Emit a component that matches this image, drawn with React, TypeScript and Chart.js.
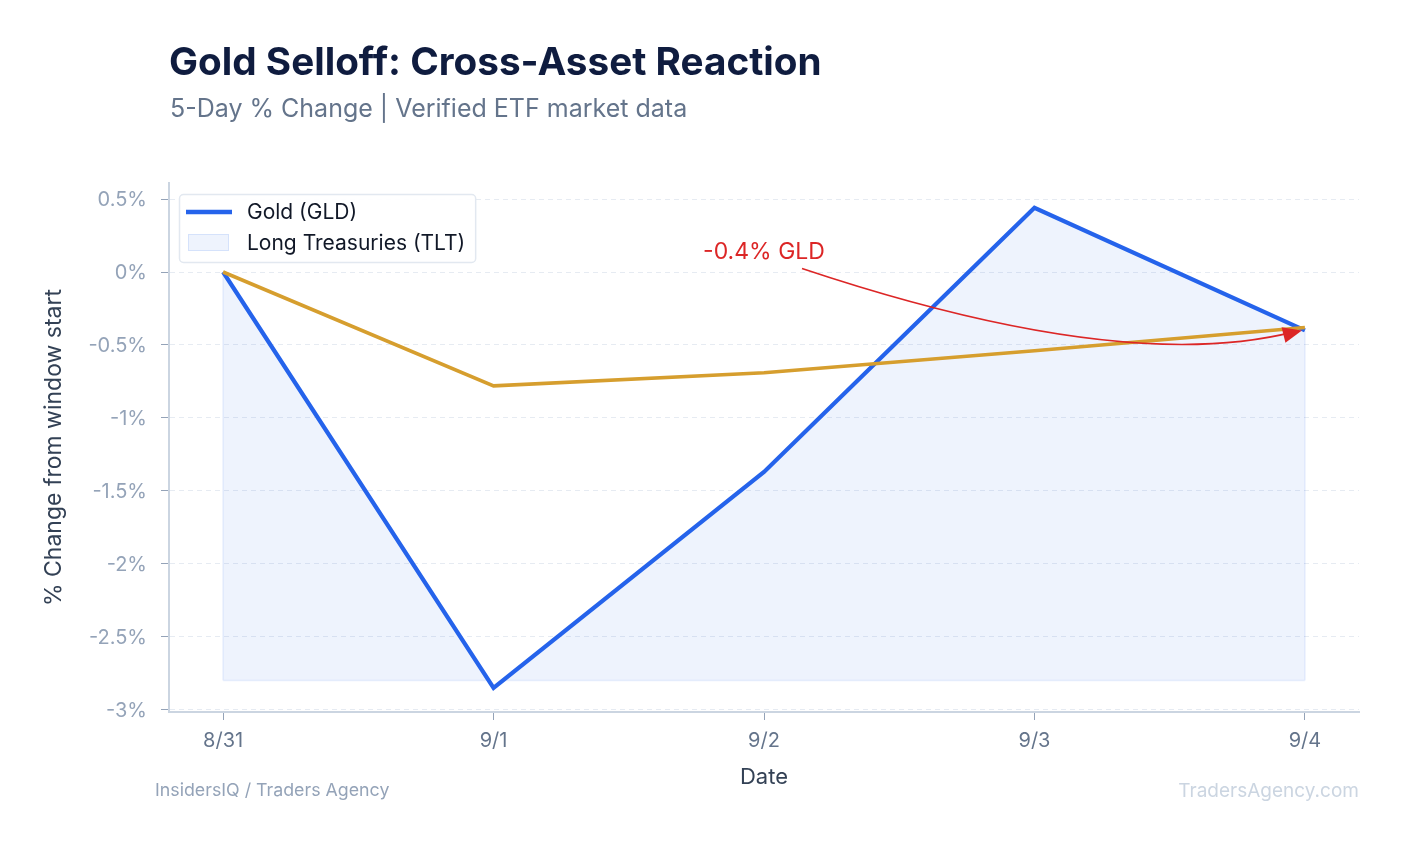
import React, { useEffect, useRef } from "react";
import { Chart, registerables } from "chart.js";

Chart.register(...registerables);

// ---------- data ----------
const DATES = ["8/31", "9/1", "9/2", "9/3", "9/4"];
const GLD = [0, -2.85, -1.37, 0.44, -0.4];
const TLT = [0, -0.78, -0.69, -0.54, -0.38];
const Y_TICKS = [0.5, 0, -0.5, -1, -1.5, -2, -2.5, -3];
const FILL_BASE = -2.8;
const SERIES_LABELS = ["Gold (GLD)", "Long Treasuries (TLT)"];
const ANNOTATION_TEXT = "-0.4% GLD";
const ANNOTATION_TEXT_AT = { x: 2, y: 0.14 };
const ANNOTATION_TARGET = { x: 4, y: -0.4 };

const TITLE = "Gold Selloff: Cross-Asset Reaction";
const SUBTITLE = "5-Day % Change | Verified ETF market data";
const Y_TITLE = "% Change from window start";
const X_TITLE = "Date";
const FOOTER_LEFT = "InsidersIQ / Traders Agency";
const FOOTER_RIGHT = "TradersAgency.com";

// ---------- styles ----------
const FONT = "Inter, 'Noto Sans', sans-serif";
const BLUE = "#2563eb";
const GOLD = "#d69e2e";
const RED = "#dc2626";
const FILL = "rgba(37, 99, 235, 0.08)";
const FILL_EDGE = "rgba(37, 99, 235, 0.10)";

const fillOutlinePlugin = {
  id: "fillOutline",
  beforeDatasetsDraw(chart: any) {
    const { ctx } = chart;
    const xs = chart.scales.x;
    const ys = chart.scales.y;
    const yb = ys.getPixelForValue(FILL_BASE);
    ctx.save();
    ctx.strokeStyle = FILL_EDGE;
    ctx.lineWidth = 1.5;
    ctx.beginPath();
    const x0 = xs.getPixelForValue(0);
    const xn = xs.getPixelForValue(GLD.length - 1);
    ctx.moveTo(x0, ys.getPixelForValue(GLD[0]));
    ctx.lineTo(x0, yb);
    ctx.moveTo(xn, ys.getPixelForValue(GLD[GLD.length - 1]));
    ctx.lineTo(xn, yb);
    for (let i = 0; i < GLD.length - 1; i++) {
      const a = GLD[i] - FILL_BASE;
      const b = GLD[i + 1] - FILL_BASE;
      const xa = xs.getPixelForValue(i);
      const xb = xs.getPixelForValue(i + 1);
      if (a >= 0 && b >= 0) {
        ctx.moveTo(xa, yb);
        ctx.lineTo(xb, yb);
      } else if (a >= 0 && b < 0) {
        const t = a / (a - b);
        ctx.moveTo(xa, yb);
        ctx.lineTo(xa + (xb - xa) * t, yb);
      } else if (a < 0 && b >= 0) {
        const t = a / (a - b);
        ctx.moveTo(xa + (xb - xa) * t, yb);
        ctx.lineTo(xb, yb);
      }
    }
    ctx.stroke();
    ctx.restore();
  },
};

const annotationPlugin = {
  id: "arrowAnnotation",
  afterDatasetsDraw(chart: any) {
    const { ctx } = chart;
    const xs = chart.scales.x;
    const ys = chart.scales.y;
    const tx = xs.getPixelForValue(ANNOTATION_TEXT_AT.x);
    const ty = ys.getPixelForValue(ANNOTATION_TEXT_AT.y);
    const px = xs.getPixelForValue(ANNOTATION_TARGET.x);
    const py = ys.getPixelForValue(ANNOTATION_TARGET.y);
    ctx.save();
    ctx.font = `23px ${FONT}`;
    ctx.fillStyle = RED;
    ctx.textAlign = "center";
    ctx.textBaseline = "middle";
    ctx.fillText(ANNOTATION_TEXT, tx, ty);

    const sx = tx + 38;
    const sy = ty + 17;
    const ex = px - 3;
    const ey = py;
    const cx = ex - 180;
    const cy = ey + 45;
    ctx.strokeStyle = RED;
    ctx.lineWidth = 1.6;
    ctx.beginPath();
    ctx.moveTo(sx, sy);
    ctx.quadraticCurveTo(cx, cy, ex - 8, ey + 1.5);
    ctx.stroke();
    let dx = ex - cx;
    let dy = ey - cy;
    const len = Math.hypot(dx, dy);
    dx /= len;
    dy /= len;
    const hl = 19;
    const hw = 8;
    const bx = ex - dx * hl;
    const by = ey - dy * hl;
    ctx.fillStyle = RED;
    ctx.beginPath();
    ctx.moveTo(ex, ey);
    ctx.lineTo(bx - dy * hw, by + dx * hw);
    ctx.lineTo(bx + dy * hw, by - dx * hw);
    ctx.closePath();
    ctx.fill();
    ctx.restore();
  },
};

const legendPlugin = {
  id: "insetLegend",
  afterDraw(chart: any) {
    const { ctx, chartArea } = chart;
    const left = chartArea.left + 10;
    const top = chartArea.top + 11;
    ctx.save();
    ctx.font = `21px ${FONT}`;
    const textX = left + 68;
    const maxW = Math.max(...SERIES_LABELS.map((l) => ctx.measureText(l).width));
    const w = textX + maxW + 10 - left;
    const h = 68;
    ctx.fillStyle = "rgba(255,255,255,0.95)";
    ctx.strokeStyle = "#e2e8f0";
    ctx.lineWidth = 1.5;
    ctx.beginPath();
    ctx.roundRect(left + 0.5, top + 0.5, w, h, 4);
    ctx.fill();
    ctx.stroke();

    const r1 = top + 18;
    const r2 = top + 48.5;
    ctx.strokeStyle = BLUE;
    ctx.lineWidth = 4.5;
    ctx.beginPath();
    ctx.moveTo(left + 7, r1);
    ctx.lineTo(left + 53, r1);
    ctx.stroke();

    ctx.fillStyle = FILL;
    ctx.fillRect(left + 9, r2 - 8.5, 41, 17);
    ctx.strokeStyle = "rgba(37, 99, 235, 0.12)";
    ctx.lineWidth = 1;
    ctx.strokeRect(left + 9.5, r2 - 8, 40, 16);

    ctx.fillStyle = "#111827";
    ctx.textAlign = "left";
    ctx.textBaseline = "middle";
    ctx.fillText(SERIES_LABELS[0], textX, r1 + 1);
    ctx.fillText(SERIES_LABELS[1], textX, r2 + 1);
    ctx.restore();
  },
};

export default function App() {
  const canvasRef = useRef<HTMLCanvasElement | null>(null);

  useEffect(() => {
    if (!canvasRef.current) return;
    const chart = new Chart(canvasRef.current, {
      type: "line",
      data: {
        datasets: [
          {
            label: SERIES_LABELS[0],
            data: GLD.map((v, i) => ({ x: i, y: v })),
            borderColor: BLUE,
            borderWidth: 4.2,
            borderJoinStyle: "miter",
            pointRadius: 0,
            tension: 0,
            order: 2,
            fill: { value: FILL_BASE, above: FILL, below: "rgba(0,0,0,0)" },
          },
          {
            label: SERIES_LABELS[1],
            data: TLT.map((v, i) => ({ x: i, y: v })),
            borderColor: GOLD,
            borderWidth: 3.6,
            borderJoinStyle: "miter",
            pointRadius: 0,
            tension: 0,
            order: 1,
            fill: false,
          },
        ],
      },
      options: {
        animation: false,
        responsive: true,
        maintainAspectRatio: false,
        layout: { padding: { top: 183, right: 44, left: 0, bottom: 0 } },
        plugins: {
          legend: { display: false },
          tooltip: { enabled: false },
          title: { display: false },
        },
        scales: {
          x: {
            type: "linear",
            min: -0.2,
            max: 4.2,
            afterBuildTicks: (s: any) => {
              s.ticks = DATES.map((_, i) => ({ value: i }));
            },
            afterFit: (s: any) => {
              s.height = 133;
            },
            ticks: {
              autoSkip: false,
              maxRotation: 0,
              padding: 9,
              color: "#64748b",
              font: { family: FONT, size: 20 },
              callback: (v: any) => DATES[v] ?? "",
            },
            grid: {
              drawOnChartArea: false,
              drawTicks: true,
              tickLength: 8,
              tickColor: "#94a3b8",
              tickWidth: 1,
            },
            border: { color: "#cbd5e1", width: 2 },
            title: {
              display: true,
              text: X_TITLE,
              color: "#334155",
              font: { family: FONT, size: 22 },
              padding: { top: 0, bottom: 54 },
            },
          },
          y: {
            type: "linear",
            min: -3.015,
            max: 0.61,
            afterBuildTicks: (s: any) => {
              s.ticks = Y_TICKS.map((v) => ({ value: v }));
            },
            afterFit: (s: any) => {
              s.width = 169;
            },
            ticks: {
              autoSkip: false,
              padding: 14,
              labelOffset: 1,
              color: "#94a3b8",
              font: { family: FONT, size: 20 },
              callback: (v: any) => `${v}%`,
            },
            grid: {
              color: "#e6ebf2",
              lineWidth: 1,
              drawTicks: true,
              tickLength: 8,
              tickColor: "#94a3b8",
              tickWidth: 1,
            },
            border: { color: "#cbd5e1", width: 2, dash: [5, 4] },
            title: {
              display: true,
              text: Y_TITLE,
              color: "#334155",
              font: { family: FONT, size: 23 },
              padding: { top: 40, bottom: 0 },
            },
          },
        },
      },
      plugins: [fillOutlinePlugin, annotationPlugin, legendPlugin],
    } as any);
    return () => chart.destroy();
  }, []);

  return (
    <div
      style={{
        position: "fixed",
        left: 0,
        top: 0,
        width: 1403,
        height: 845,
        background: "#ffffff",
        fontFamily: FONT,
        overflow: "hidden",
      }}
    >
      <canvas ref={canvasRef} style={{ position: "absolute", left: 0, top: 0 }} />
      <div
        style={{
          position: "absolute",
          left: 169,
          top: 42,
          fontSize: 38.7,
          lineHeight: "39px",
          fontWeight: 700,
          color: "#0f1c3f",
          whiteSpace: "nowrap",
        }}
      >
        {TITLE}
      </div>
      <div
        style={{
          position: "absolute",
          left: 170,
          top: 96,
          fontSize: 25,
          lineHeight: "25px",
          color: "#64748b",
          whiteSpace: "nowrap",
        }}
      >
        {SUBTITLE}
      </div>
      <div
        style={{
          position: "absolute",
          left: 155,
          top: 781,
          fontSize: 17.8,
          lineHeight: "18px",
          color: "#94a3b8",
          whiteSpace: "nowrap",
        }}
      >
        {FOOTER_LEFT}
      </div>
      <div
        style={{
          position: "absolute",
          right: 44,
          top: 781,
          fontSize: 19,
          lineHeight: "19px",
          color: "#cbd5e1",
          whiteSpace: "nowrap",
        }}
      >
        {FOOTER_RIGHT}
      </div>
    </div>
  );
}
